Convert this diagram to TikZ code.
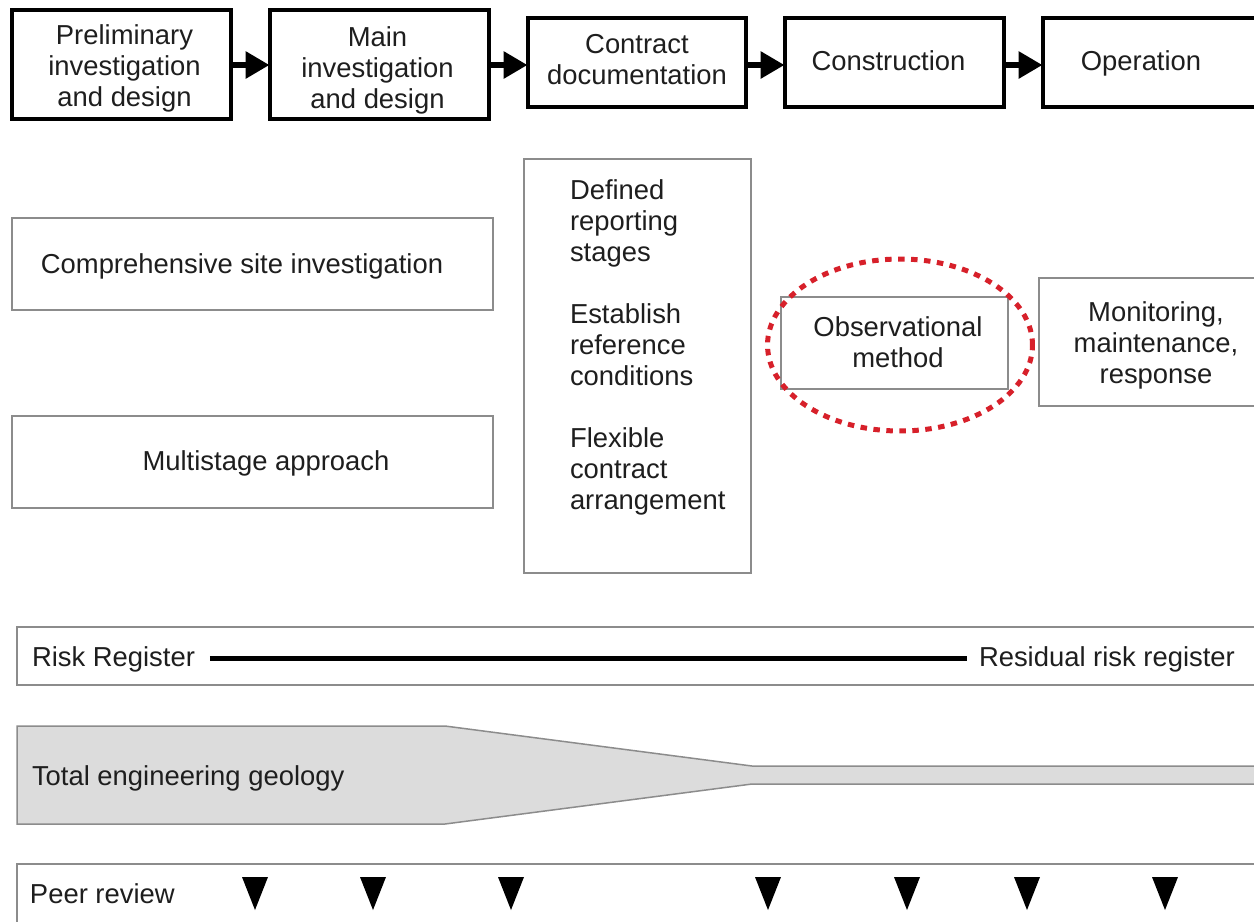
\documentclass[tikz,border=0pt]{standalone}
\usepackage{fontspec}
\setmainfont{Liberation Sans}
\usetikzlibrary{arrows.meta,shapes.geometric}
\definecolor{boxgray}{HTML}{8C8C8C}
\definecolor{fillgray}{HTML}{DCDCDC}
\definecolor{dotred}{HTML}{D7202A}
\definecolor{txt}{HTML}{1E1E1E}
\tikzset{
  px/.style={x=0.02cm,y=-0.02cm},
  stagebox/.style={draw=black, line width=0.09cm, fill=white, align=center, inner sep=0pt, outer sep=0pt, text=txt},
  thinbox/.style={draw=boxgray, line width=0.03cm, fill=white, inner sep=0pt, outer sep=0pt, text=txt},
  lbl/.style={inner sep=0pt, outer sep=0pt, text=txt, font=\fontsize{15.6pt}{17.6pt}\selectfont},
  stagearrow/.style={line width=0.12cm, -{Triangle[length=0.48cm, width=0.52cm]}, shorten >=0.01cm},
  reviewmark/.style={fill=black},
}
\begin{document}
\begin{tikzpicture}[px, font=\fontsize{15.6pt}{17.6pt}\selectfont]
\useasboundingbox (0,0) rectangle (1254,921);
\clip (0,0) rectangle (1254,921);
\fill[white] (0,0) rectangle (1254,921);

% stage boxes
\node[stagebox, minimum width=4.38cm, minimum height=2.18cm] (s1) at (121.5,64.5) {};
\node[lbl, align=center] (s1t) at (124.5,68.5) {Preliminary\\investigation\\and design};
\node[stagebox, minimum width=4.38cm, minimum height=2.18cm] (s2) at (379.5,64.5) {};
\node[lbl, align=center] (s2t) at (377.5,70.5) {Main\\investigation\\and design};
\node[stagebox, minimum width=4.36cm, minimum height=1.78cm] (s3) at (637,62.5) {};
\node[lbl, align=center] (s3t) at (637,59.5) {Contract\\documentation};
\node[stagebox, minimum width=4.38cm, minimum height=1.78cm] (s4) at (894.5,62.5) {};
\node[lbl] (s4t) at (888.5,60.5) {Construction};
\node[stagebox, minimum width=4.38cm, minimum height=1.78cm, anchor=west] (s5) at (1043,62.5) {};
\node[lbl] (s5t) at (1141,63) {Operation};

\draw[stagearrow] (s1.east |- 0,65) -- (s2.west |- 0,65);
\draw[stagearrow] (s2.east |- 0,65) -- (s3.west |- 0,65);
\draw[stagearrow] (s3.east |- 0,65) -- (s4.west |- 0,65);
\draw[stagearrow] (s4.east |- 0,65) -- (s5.west |- 0,65);

% middle boxes
\node[thinbox, minimum width=9.62cm, minimum height=1.84cm] (csi) at (252.5,264) {};
\node[lbl] (csit) at (242,266) {Comprehensive site investigation};
\node[thinbox, minimum width=9.62cm, minimum height=1.84cm] (msa) at (252.5,462) {};
\node[lbl] (msat) at (266,463) {Multistage approach};

\node[thinbox, minimum width=4.54cm, minimum height=8.28cm] (tall) at (637.5,366) {};
\node[lbl, align=left, anchor=north west] (tallt) at (570,180)
  {Defined\\reporting\\stages\\[0.62cm]Establish\\reference\\conditions\\[0.62cm]Flexible\\contract\\arrangement};

\node[thinbox, minimum width=4.54cm, minimum height=1.84cm] (obs) at (894.5,343) {};
\node[lbl, align=center] (obst) at (898,342) {Observational\\method};
\node[draw=dotred, line width=0.1cm, dash pattern=on 0.13cm off 0.13cm, ellipse,
      minimum width=5.3cm, minimum height=3.44cm, inner sep=0pt] (ring) at (900,345) {};

\node[thinbox, minimum width=4.6cm, minimum height=2.56cm, anchor=west] (mon) at (1039,342) {};
\node[lbl, align=center] (mont) at (1156,345) {Monitoring,\\maintenance,\\response};

% risk register
\node[thinbox, minimum width=24.9cm, minimum height=1.16cm, anchor=west] (risk) at (17,656) {};
\node[lbl, anchor=west] (rr) at (32,659) {Risk Register};
\node[lbl, anchor=west] (res) at (979,659) {Residual risk register};
\draw[line width=0.1cm, black] ([xshift=0.3cm]rr.east |- 0,658) -- ([xshift=-0.24cm]res.west |- 0,658);

% total engineering geology
\filldraw[fill=fillgray, draw=boxgray, line width=0.03cm]
  (17,726) -- (445,726) -- (752,766) -- (1270,766) -- (1270,784) -- (752,784) -- (445,824) -- (17,824) -- cycle;
\node[lbl, anchor=west] (teg) at (32,778) {Total engineering geology};

% peer review
\node[thinbox, minimum width=24.9cm, minimum height=1.4cm, anchor=north west] (peer) at (17,864) {};
\node[lbl, anchor=west] (pr) at (30,894) {Peer review};
\foreach \x in {255,373,511,768,907,1027,1165}
  \fill[reviewmark] ({\x-13},877) -- ({\x+13},877) -- (\x,910) -- cycle;
\end{tikzpicture}
\end{document}
